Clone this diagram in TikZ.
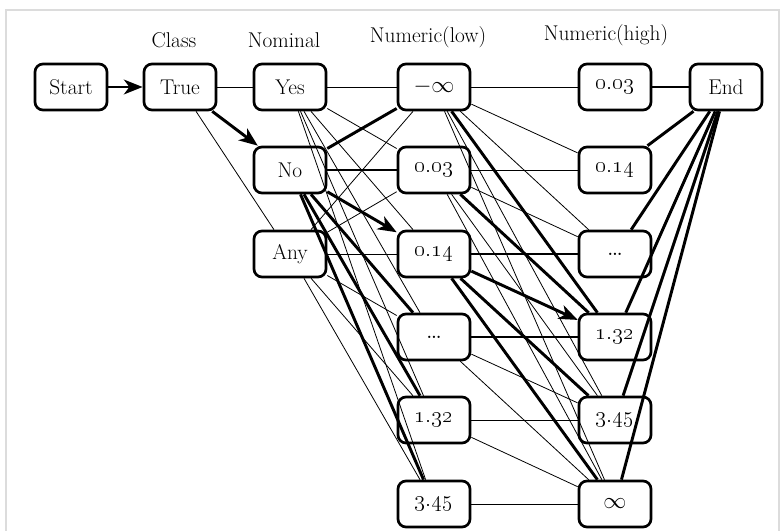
\documentclass[tikz,border=0pt]{standalone}
\usetikzlibrary{arrows.meta}
\definecolor{framegray}{RGB}{220,220,220}
\newcommand{\bigdots}{{\fontsize{21}{22}\selectfont\dots}}
\begin{document}
\begin{tikzpicture}[x=0.75pt,y=-0.75pt,
  box/.style={draw,line width=2pt,rounded corners=6pt,minimum width=54pt,minimum height=34.5pt,inner sep=0pt,font=\fontsize{16}{18}\selectfont},
  hdr/.style={anchor=base,inner sep=0pt,font=\fontsize{16}{18}\selectfont},
  tn/.style={line width=0.6pt},
  bd/.style={line width=2.2pt},
  ar/.style={line width=2.2pt,-{Stealth[length=14pt,width=11pt,inset=4pt]}}]
\useasboundingbox (0,0) rectangle (783,531);
\draw[framegray,line width=1.6pt] (6,531) -- (6,10) -- (779,10) -- (779,531);
% headers
\node[hdr] (hclass) at (174,48) {Class};
\node[hdr] (hnom) at (284,48) {Nominal};
\node[hdr] (hlow) at (428,43) {Numeric(low)};
\node[hdr] (hhigh) at (606,41) {Numeric(high)};
% nodes
\node[box] (start) at (71,87) {Start};
\node[box] (true) at (180,87) {True};
\node[box] (yes) at (290,87) {Yes};
\node[box] (no) at (290,170) {No};
\node[box] (any) at (290,254) {Any};
\node[box] (l1) at (434,87) {$-\infty$};
\node[box] (l2) at (434,170) {\oldstylenums{0.03}};
\node[box] (l3) at (434,254) {\oldstylenums{0.14}};
\node[box] (l4) at (434,337) {\bigdots};
\node[box] (l5) at (434,420) {\oldstylenums{1.32}};
\node[box] (l6) at (434,504) {\oldstylenums{3.45}};
\node[box] (h1) at (615,87) {\oldstylenums{0.03}};
\node[box] (h2) at (615,170) {\oldstylenums{0.14}};
\node[box] (h3) at (615,254) {\bigdots};
\node[box] (h4) at (615,337) {\oldstylenums{1.32}};
\node[box] (h5) at (615,420) {\oldstylenums{3.45}};
\node[box] (h6) at (615,504) {$\infty$};
\node[box] (end) at (726,87) {End};
% class layer
\draw[ar] (start) -- (true);
\draw[ar] (true) -- (no);
\draw[tn] (true) -- (yes);
\draw[tn] (true) -- (any);
% nominal -> low
\foreach \t in {l1,l2,l3,l4,l5,l6} {\draw[tn] (yes) -- (\t); \draw[tn] (any) -- (\t);}
\draw[bd] (no) -- (l1);
\draw[bd] (no) -- (l2);
\draw[ar] (no) -- (l3);
\draw[bd] (no) -- (l4);
\draw[bd] (no) -- (l5);
\draw[bd] (no) -- (l6);
% low -> high
\draw[tn] (l1) -- (h1);
\draw[tn] (l1) -- (h2);
\draw[tn] (l1) -- (h3);
\draw[bd] (l1) -- (h4);
\draw[tn] (l1) -- (h5);
\draw[tn] (l1) -- (h6);
\draw[tn] (l2) -- (h2);
\draw[tn] (l2) -- (h3);
\draw[bd] (l2) -- (h4);
\draw[tn] (l2) -- (h5);
\draw[tn] (l2) -- (h6);
\draw[bd] (l3) -- (h3);
\draw[ar] (l3) -- (h4);
\draw[bd] (l3) -- (h5);
\draw[bd] (l3) -- (h6);
\draw[bd] (l4) -- (h4);
\draw[tn] (l4) -- (h5);
\draw[tn] (l4) -- (h6);
\draw[tn] (l5) -- (h5);
\draw[tn] (l5) -- (h6);
\draw[tn] (l6) -- (h6);
% high -> end
\foreach \s in {h1,h2,h3,h4,h5,h6} {\draw[bd] (\s) -- (end);}
\end{tikzpicture}
\end{document}
